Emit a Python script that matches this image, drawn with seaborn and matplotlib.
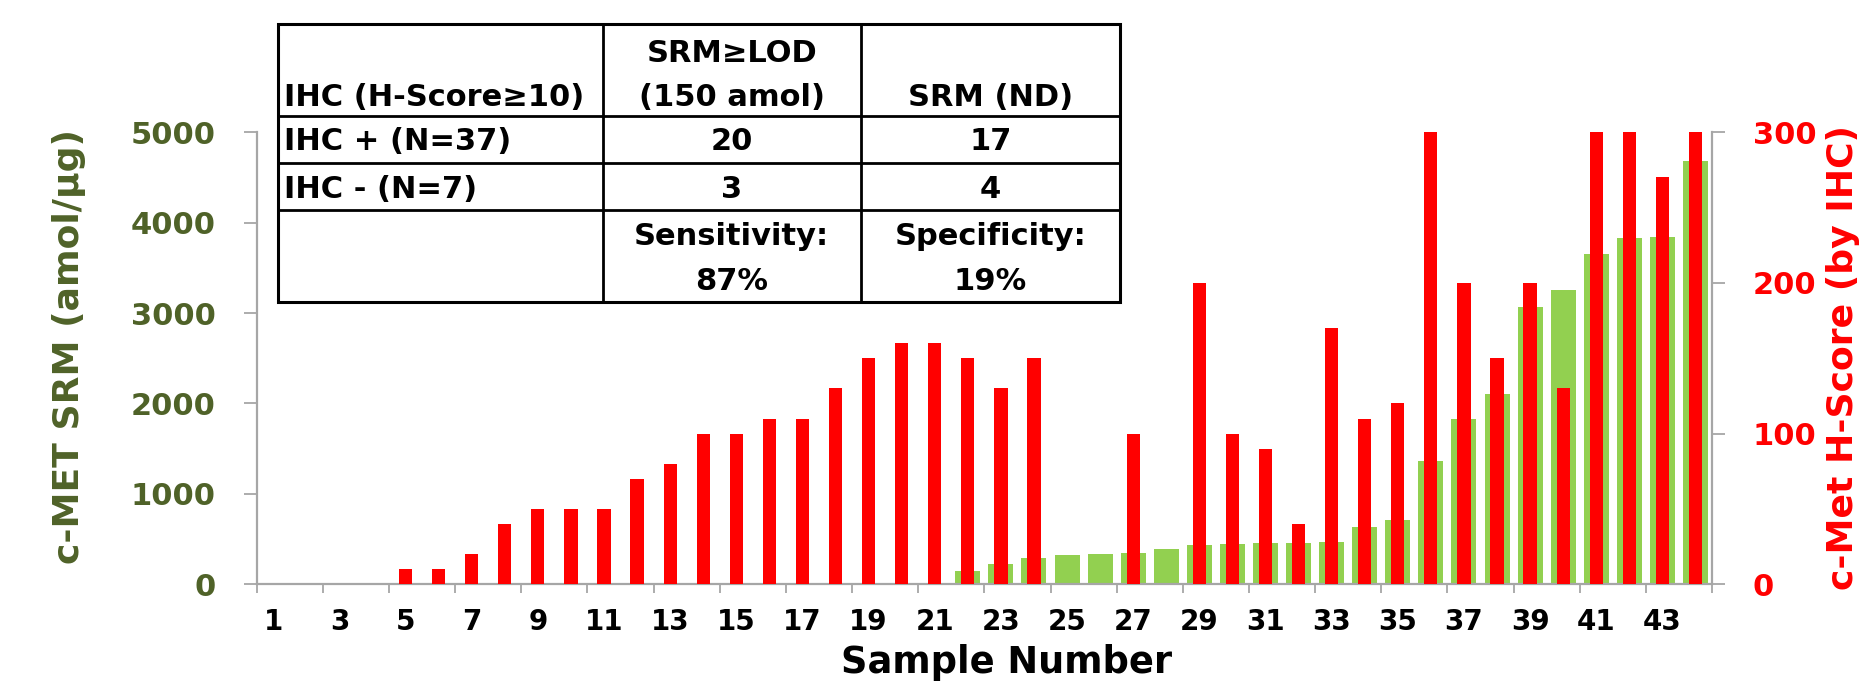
import numpy as np
import matplotlib
matplotlib.use("Agg")
import matplotlib.pyplot as plt
from matplotlib.patches import Rectangle
import seaborn as sns

# ---------------- data ----------------
samples = [1, 2, 3, 4, 5, 6, 7, 8, 9, 10, 11, 12, 13, 14, 15, 16, 17, 18, 19, 20, 21, 22,
           23, 24, 25, 26, 27, 28, 29, 30, 31, 32, 33, 34, 35, 36, 37, 38, 39, 40, 41, 42, 43, 44]
srm_amol = [0, 0, 0, 0, 0, 0, 0, 0, 0, 0, 0, 0, 0, 0, 0, 0, 0, 0, 0, 0, 0,
            150, 220, 290, 320, 340, 345, 390, 440, 445, 455, 457, 465, 630, 710,
            1360, 1830, 2100, 3070, 3250, 3650, 3830, 3840, 4680]
h_score = [0, 0, 0, 0, 10, 10, 20, 40, 50, 50, 50, 70, 80, 100, 100, 110, 110, 130, 150,
           160, 160, 150, 130, 150, 0, 0, 100, 0, 200, 100, 90, 40, 170, 110, 120, 300,
           200, 150, 200, 130, 300, 300, 270, 300]
x_tick_labels = ["1", "3", "5", "7", "9", "11", "13", "15", "17", "19", "21", "23",
                 "25", "27", "29", "31", "33", "35", "37", "39", "41", "43"]
left_ticks = [0, 1000, 2000, 3000, 4000, 5000]
right_ticks = [0, 100, 200, 300]

table_header = [["", "SRM\u2265LOD", ""], ["IHC (H-Score\u226510)", "(150 amol)", "SRM (ND)"]]
table_rows = [["IHC + (N=37)", "20", "17"],
              ["IHC - (N=7)", "3", "4"]]
table_footer = [["", "Sensitivity:", "Specificity:"], ["", "87%", "19%"]]

# ---------------- style ----------------
GREEN = "#92D050"
RED = "#FF0000"
OLIVE = "#4F6228"
GRAY = "#A6A6A6"

sns.set_theme(style="white")
plt.rcParams["font.family"] = ["DejaVu Sans"]
plt.rcParams["font.weight"] = "bold"

W, H = 1868, 681
fig = plt.figure(figsize=(W / 100, H / 100), dpi=100)
fig.patch.set_facecolor("white")

x0, x1 = 256.7, 1712.0
y0, y1 = 584.3, 132.3
ax = fig.add_axes([x0 / W, (H - y0) / H, (x1 - x0) / W, (y0 - y1) / H])

sns.barplot(x=samples, y=srm_amol, ax=ax, color=GREEN, saturation=1, width=0.756,
            linewidth=0, errorbar=None)
ax2 = ax.twinx()
sns.barplot(x=samples, y=h_score, ax=ax2, color=RED, saturation=1, width=0.40,
            linewidth=0, errorbar=None)

ax.set_xlim(-0.5, len(samples) - 0.5)
ax.set_ylim(0, 5000)
ax2.set_ylim(0, 300)
ax.set_yticks(left_ticks)
ax.set_yticklabels([str(t) for t in left_ticks])
ax2.set_yticks(right_ticks)
ax2.set_yticklabels([str(t) for t in right_ticks])

ax.set_xticks(np.arange(0, len(samples), 2))
ax.set_xticklabels(x_tick_labels)
ax.set_xticks(np.arange(-0.5, len(samples), 2), minor=True)

for a in (ax, ax2):
    a.set_xlabel("")
    a.set_ylabel("")
    a.grid(False)
    a.spines["top"].set_visible(False)
ax.spines["right"].set_visible(False)
ax2.spines["left"].set_visible(False)
ax2.spines["bottom"].set_visible(False)
for s in ("left", "bottom"):
    ax.spines[s].set_color(GRAY)
    ax.spines[s].set_linewidth(1.6)
ax2.spines["right"].set_color(GRAY)
ax2.spines["right"].set_linewidth(1.6)

ax.tick_params(axis="y", which="major", left=True, direction="out", length=9.4, width=1.3,
               color=GRAY, pad=20, labelsize=22, labelcolor=OLIVE)
ax2.tick_params(axis="y", which="major", right=True, direction="out", length=9.4, width=1.3,
                color=GRAY, pad=20, labelsize=22, labelcolor=RED)
ax.tick_params(axis="x", which="major", bottom=True, length=0, pad=17, labelsize=20,
               labelcolor="black")
ax.tick_params(axis="x", which="minor", bottom=True, direction="out", length=6.5, width=1.3,
               color=GRAY)
for lab in ax.get_yticklabels() + ax2.get_yticklabels() + ax.get_xticklabels():
    lab.set_fontweight("bold")

# axis titles
fig.text(69 / W, 1 - 346 / H, "c-MET SRM (amol/\u03bcg)", rotation=90, ha="center",
         va="center", fontsize=26, color=OLIVE, fontweight="bold")
fig.text(1843 / W, 1 - 357 / H, "c-Met H-Score (by IHC)", rotation=90, ha="center",
         va="center", fontsize=26, color=RED, fontweight="bold")
fig.text(1006.5 / W, 1 - 673 / H, "Sample Number", ha="center", va="baseline",
         fontsize=26.5, color="black", fontweight="bold")

# ---------------- inset table ----------------
tax = fig.add_axes([0, 0, 1, 1], zorder=5)
tax.set_xlim(0, W)
tax.set_ylim(H, 0)
tax.axis("off")
tax.patch.set_alpha(0)

col_x = [277.7, 602.5, 861.0, 1120.0]
row_y = [24.3, 116.0, 162.7, 210.0, 301.7]
tax.add_patch(Rectangle((col_x[0], row_y[0]), col_x[-1] - col_x[0], row_y[-1] - row_y[0],
                        facecolor="white", edgecolor="black", linewidth=2.2, zorder=1))
for yy in row_y[1:-1]:
    tax.plot([col_x[0], col_x[-1]], [yy, yy], color="black", lw=2.0, zorder=2)
for xx in col_x[1:-1]:
    tax.plot([xx, xx], [row_y[0], row_y[-1]], color="black", lw=2.0, zorder=2)

col_text_x = [284.0, (col_x[1] + col_x[2]) / 2, (col_x[2] + col_x[3]) / 2]
col_ha = ["left", "center", "center"]
line_ys = [[53, 98], [141.7], [190], [236.7, 281.7]]
blocks = [table_header, [table_rows[0]], [table_rows[1]], table_footer]
for block, ys in zip(blocks, line_ys):
    for line, yy in zip(block, ys):
        for j, txt in enumerate(line):
            if txt:
                tax.text(col_text_x[j], yy, txt, ha=col_ha[j], va="center", fontsize=22,
                         fontweight="bold", color="black", zorder=3)

fig.savefig("out.png", dpi=100, facecolor="white")
